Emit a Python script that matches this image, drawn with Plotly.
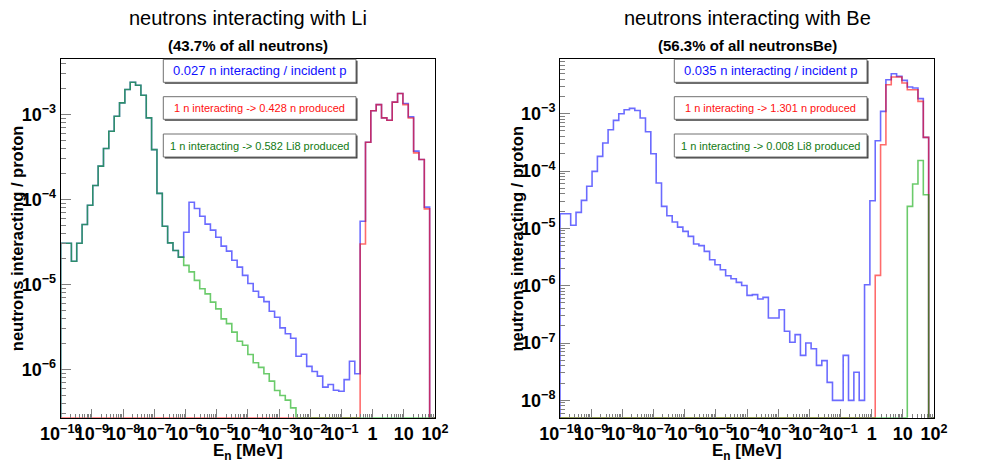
import numpy as np
import plotly.graph_objects as go

# the page body has an 8px margin, so the figure is placed 8px in from the window corner
OFF = 8
W, H = 998 - OFF, 475 - OFF

# 70 log bins, 1e-10 .. 1e2 MeV
bin_edges = np.logspace(-10, 2, 71)

# ---- Li panel (neutrons interacting / proton per bin) ----
li_all = [3.06e-5, 3.06e-5, 1.88e-5, 3.06e-5, 5.08e-5, 8.57e-5, 1.46e-4, 2.47e-4, 3.98e-4, 6.37e-4,
          9.55e-4, 1.37e-3, 1.97e-3, 2.40e-3, 2.21e-3, 1.69e-3, 9.13e-4, 3.87e-4, 1.18e-4, 4.85e-5,
          3.09e-5, 2.51e-5, 2.10e-5,
          4.12e-5, 9.3e-5, 7.83e-5, 6.37e-5, 5.13e-5, 4.36e-5, 3.6e-5, 2.83e-5, 2.47e-5, 1.93e-5,
          1.6e-5, 1.28e-5, 1.03e-5, 8.35e-6, 7.1e-6, 6.3e-6, 4.85e-6, 4.12e-6, 3.09e-6, 2.63e-6,
          2.33e-6, 1.43e-6, 1.51e-6, 1.09e-6, 9.46e-7, 8.35e-7, 6.2e-7, 6.67e-7, 5.7e-7, 5.56e-7,
          7.6e-7, 1.25e-6, 8.9e-7,
          5.56e-5, 4.73e-4, 1.11e-3, 1.31e-3, 9.13e-4, 8.57e-4, 1.40e-3, 1.77e-3, 1.35e-3, 9.4e-4,
          3.71e-4, 2.96e-4, 8.13e-5, 0]
li_nprod = [0] * 56 + [3.0e-5, 4.73e-4, 1.11e-3, 1.31e-3, 9.13e-4, 8.57e-4, 1.40e-3, 1.77e-3,
                       1.31e-3, 9.1e-4, 3.54e-4, 2.96e-4, 7.76e-5, 0]
li_li8 = [3.06e-5, 3.06e-5, 1.88e-5, 3.06e-5, 5.08e-5, 8.57e-5, 1.46e-4, 2.47e-4, 3.98e-4, 6.37e-4,
          9.55e-4, 1.37e-3, 1.97e-3, 2.40e-3, 2.21e-3, 1.69e-3, 9.13e-4, 3.87e-4, 1.18e-4, 4.85e-5,
          3.09e-5, 2.51e-5, 2.10e-5,
          1.68e-5, 1.41e-5, 1.12e-5, 8.9e-6, 7.77e-6, 6.2e-6, 5.17e-6, 3.94e-6, 3.47e-6, 2.75e-6,
          2.15e-6, 1.93e-6, 1.5e-6, 1.2e-6, 1.06e-6, 8.9e-7, 7.3e-7, 5.66e-7, 4.94e-7, 4.36e-7,
          3.54e-7] + [0] * 26

# ---- Be panel ----
be_all = [1.80e-5, 1.80e-5, 1.13e-5, 1.90e-5, 3.08e-5, 5.41e-5, 9.87e-5, 1.80e-4, 3.08e-4, 5.26e-4,
          7.66e-4, 1.00e-3, 1.17e-3, 1.24e-3, 1.14e-3, 8.4e-4, 4.85e-4, 2.0e-4, 6.18e-5, 2.42e-5,
          1.66e-5, 1.29e-5, 1.05e-5, 8.87e-6, 7.25e-6, 5.33e-6, 5.0e-6,
          3.97e-6, 2.84e-6, 2.32e-6, 1.90e-6, 1.49e-6, 1.32e-6, 1.14e-6, 1.01e-6, 6.78e-7, 6.97e-7,
          5.85e-7, 6.25e-7, 2.73e-7, 2.73e-7, 3.81e-7, 1.6e-7, 1.03e-7, 1.40e-7, 6.08e-8, 1.0e-7,
          7.96e-8, 4.07e-8, 4.92e-8, 2.06e-8, 1e-8, 1e-8, 6.08e-8, 1e-8, 3.08e-8, 1e-8, 1.04e-6,
          3.03e-5, 3.38e-4, 1.10e-3, 3.92e-3, 4.99e-3, 4.48e-3, 3.81e-3, 2.92e-3, 2.81e-3, 1.83e-3,
          3.86e-4, 0]
be_nprod = [0] * 59 + [1.51e-6, 2.88e-4, 3.2e-3, 4.37e-3, 4.37e-3, 3.43e-3, 2.62e-3, 2.62e-3,
                       1.64e-3, 3.86e-4, 0]
be_li8 = [0] * 65 + [2.42e-5, 5.93e-5, 1.53e-4, 3.86e-5, 0]

titles = ["neutrons interacting with Li", "neutrons interacting with Be"]
subtitles = ["(43.7% of all neutrons)", "(56.3% of all neutronsBe)"]
box_texts = [["0.027 n interacting / incident p", "1 n interacting -> 0.428 n produced",
              "1 n interacting -> 0.582 Li8 produced"],
             ["0.035 n interacting / incident p", "1 n interacting -> 1.301 n produced",
              "1 n interacting -> 0.008 Li8 produced"]]

xticks = [10.0 ** e for e in range(-10, 3)]
xticktext = ["10<sup>\u2212%d</sup>" % -e for e in range(-10, 0)] + ["1", "10", "10<sup>2</sup>"]

# window-pixel geometry of the two frames
frames = [(60.7, 435.0), (560.0, 934.0)]
frame_top, frame_bot = 59.3, 417.7
yranges = [(-6.567, -2.35), (-8.303, -2.051)]
ydecades = [[-6, -5, -4, -3], [-8, -7, -6, -5, -4, -3]]

line_cols = ["rgba(0,0,255,0.58)", "rgba(255,0,0,0.58)", "rgba(0,165,0,0.58)"]
text_cols = ["#1010ff", "#ff1010", "#127a12"]
FONT = "Liberation Sans"


def px(x):
    return (x - OFF) / W


def py(y):
    return 1 - (y - OFF) / H


def step_xy(vals, floor):
    # ROOT-like histogram outline, empty bins sit on the frame bottom
    v = [x if x > 0 else floor for x in vals]
    xs = [bin_edges[0]] + list(bin_edges)
    ys = [floor] + v + [floor]
    return xs, ys


def txt(x, y, text, size, color="black", bold=False, angle=0):
    return dict(x=px(x), y=py(y), xref="paper", yref="paper", xanchor="center", yanchor="middle",
                text=text, showarrow=False, textangle=angle,
                font=dict(family=FONT, size=size, color=color, weight="bold" if bold else "normal"))


fig = go.Figure()
panels = [(li_all, li_nprod, li_li8), (be_all, be_nprod, be_li8)]
for i, series in enumerate(panels):
    floor = 10 ** yranges[i][0]
    xa = "x" if i == 0 else "x2"
    ya = "y" if i == 0 else "y2"
    for s, col in zip(series, line_cols):
        xs, ys = step_xy(s, floor)
        fig.add_trace(go.Scatter(x=xs, y=ys, mode="lines", line=dict(color=col, width=1.6, shape="hv"),
                                 xaxis=xa, yaxis=ya, showlegend=False, hoverinfo="skip"))

annotations = []
shapes = []
for i in range(2):
    x0, x1 = frames[i]
    sfx = "" if i == 0 else "2"
    xc = (x0 + x1) / 2
    fig.layout["xaxis" + sfx] = dict(
        type="log", range=[-10, 2], domain=[px(x0), px(x1)], anchor="y" + sfx, automargin=False,
        showline=True, linecolor="black", linewidth=1, mirror=True, showgrid=False, zeroline=False,
        tickmode="array", tickvals=xticks, ticktext=xticktext, tickangle=0,
        ticks="inside", ticklen=9, tickcolor="#808080", tickwidth=1,
        minor=dict(ticks="inside", ticklen=4, tickcolor="#808080", dtick="D1", showgrid=False),
        tickfont=dict(family=FONT, size=18, color="black", weight="bold"))
    fig.layout["yaxis" + sfx] = dict(
        type="log", range=list(yranges[i]), domain=[py(frame_bot), py(frame_top)],
        anchor="x" + sfx, automargin=False,
        showline=True, linecolor="black", linewidth=1, mirror=True, showgrid=False, zeroline=False,
        tickmode="array", tickvals=[10.0 ** d for d in ydecades[i]],
        ticktext=["10<sup>\u2212%d</sup>" % -d for d in ydecades[i]],
        ticks="inside", ticklen=10, tickcolor="#808080", tickwidth=1,
        minor=dict(ticks="inside", ticklen=5, tickcolor="#808080", dtick="D1", showgrid=False),
        tickfont=dict(family=FONT, size=18, color="black", weight="bold"))

    annotations.append(txt(xc, 18.5, titles[i], 20))
    annotations.append(txt(xc, 46, subtitles[i], 15, bold=True))
    annotations.append(txt(248 if i == 0 else 747, 452, "E<sub>n</sub> [MeV]", 17, bold=True))
    annotations.append(txt(x0 - 43, 238.5, "neutrons interacting / proton", 16.5, bold=True, angle=-90))

    # text boxes with a ROOT style shadow
    bx0 = 163.3 if i == 0 else 674.3
    bx1 = bx0 + 192.7
    for j, (by0, by1) in enumerate([(59.3, 82.3), (96.7, 119.3), (134.0, 157.0)]):
        shapes.append(dict(type="rect", xref="paper", yref="paper",
                           x0=px(bx0 + 1.5), x1=px(bx1 + 1.5), y0=py(by1 + 1.5), y1=py(by0 + 1.5),
                           fillcolor="#3c3c3c", line=dict(width=0), layer="above"))
        shapes.append(dict(type="rect", xref="paper", yref="paper",
                           x0=px(bx0), x1=px(bx1), y0=py(by1), y1=py(by0),
                           fillcolor="white", line=dict(color="#707070", width=1), layer="above"))
        annotations.append(txt((bx0 + bx1) / 2, (by0 + by1) / 2, box_texts[i][j],
                               13 if j == 0 else 11, color=text_cols[j]))

fig.update_layout(template="none", width=W, height=H, margin=dict(l=0, r=0, t=0, b=0, pad=0),
                  paper_bgcolor="white", plot_bgcolor="white",
                  annotations=annotations, shapes=shapes, showlegend=False)

fig.write_html("out.html")
